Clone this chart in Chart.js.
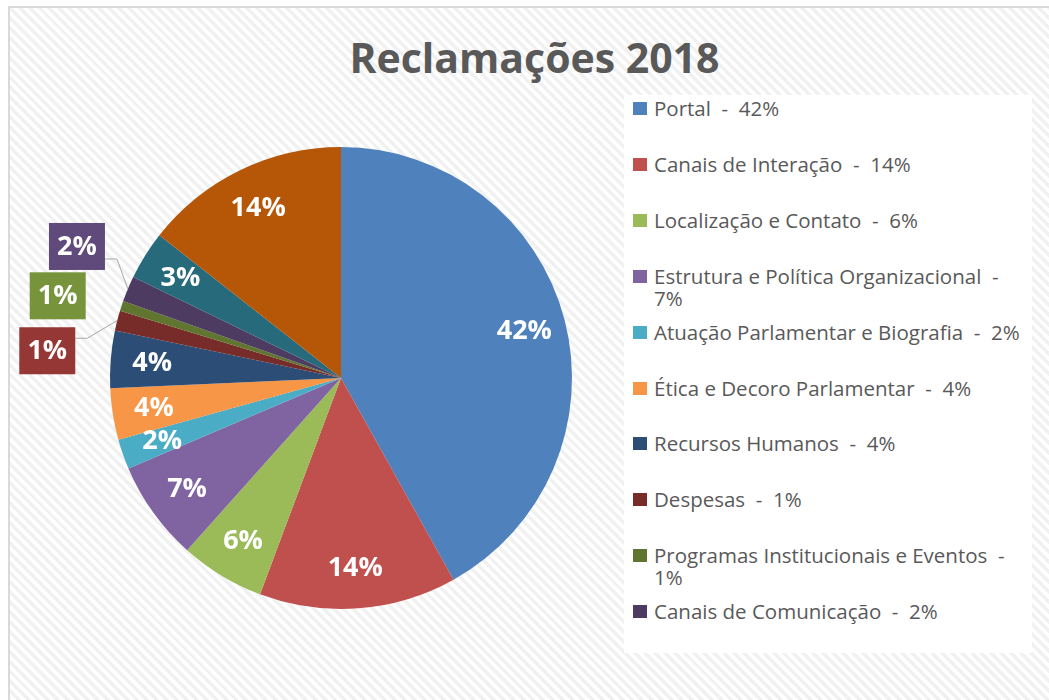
<!DOCTYPE html>
<html>
<head>
<meta charset="utf-8">
<script src="https://cdn.jsdelivr.net/npm/chart.js@4.4.0/dist/chart.umd.min.js"></script>
<style>
body { margin:0; width:1049px; height:700px; overflow:hidden; background:#fff; font-family:"Open Sans", sans-serif; }
#frame { position:absolute; left:8px; top:6px; width:1100px; height:760px;
  border-left:2px solid #d9d9d9; border-top:2px solid #d9d9d9;
  background: repeating-linear-gradient(45deg, #ffffff 0px, #ffffff 3.5px, #f1f1f1 3.5px, #f1f1f1 7px); }
#title { position:absolute; left:0; width:1069px; top:33px; text-align:center; font-weight:700;
  font-size:41px; line-height:48px; color:#595959; }
#legend { position:absolute; left:624px; top:95px; width:408px; height:558px; background:#fff; overflow:hidden; }
.item { position:absolute; left:0; width:408px; height:56px; }
.mark { position:absolute; left:9px; top:7px; width:14px; height:13px; }
.txt { position:absolute; left:30px; top:2px; width:376px; white-space:pre-wrap; font-size:20.5px; line-height:22px; color:#595959; }
canvas { position:absolute; left:0; top:0; }
</style>
</head>
<body>
<div id="frame"></div>
<div id="title">Reclamações 2018</div>
<div id="legend"></div>
<canvas id="pieChart" width="1049" height="700"></canvas>
<script>
// categorias (as duas últimas não aparecem na legenda cortada)
const categories = [
    "Portal",
    "Canais de Interação",
    "Localização e Contato",
    "Estrutura e Política Organizacional",
    "Atuação Parlamentar e Biografia",
    "Ética e Decoro Parlamentar",
    "Recursos Humanos",
    "Despesas",
    "Programas Institucionais e Eventos",
    "Canais de Comunicação",
    "",
    ""
];
// participação (%)
const shares = [41.9, 13.8, 5.9, 7.0, 2.1, 3.6, 4.0, 1.4, 0.7, 1.8, 3.4, 14.4];
const colors = ["#4F81BD", "#C0504D", "#9BBB59", "#8064A2", "#4BACC6", "#F79646",
    "#2C4D75", "#772C2A", "#5F7530", "#4D3B62", "#276A7C", "#B65708"];

// fatias pequenas com rótulo em caixa fora da pizza
const calloutSlices = [7, 8, 9];
const calloutColors = ["#953735", "#77933C", "#604A7B"];

const total = shares.reduce((a, b) => a + b, 0);
function pct(v) {
    return Math.round(v / total * 100) + "%";
}

// legenda
const legend = document.getElementById("legend");
categories.forEach((name, i) => {
    if (!name) return;
    const item = document.createElement("div");
    item.className = "item";
    item.style.top = (i * 55.9) + "px";
    item.innerHTML = `<div class="mark" style="background:${colors[i]}"></div><div class="txt">${name}  -  ${pct(shares[i])}</div>`;
    legend.appendChild(item);
});

const sliceLabels = {
    id: "sliceLabels",
    afterDatasetsDraw(chart, args, opts) {
        const ctx = chart.ctx;
        const meta = chart.getDatasetMeta(0);
        ctx.save();
        ctx.font = "bold 27px 'Open Sans'";
        ctx.textAlign = "center";
        ctx.textBaseline = "middle";
        meta.data.forEach((arc, i) => {
            const p = arc.getProps(["x", "y", "startAngle", "endAngle", "outerRadius"], true);
            const mid = (p.startAngle + p.endAngle) / 2;
            const text = pct(shares[i]);
            const k = calloutSlices.indexOf(i);
            if (k < 0) {
                const r = p.outerRadius * opts.inner;
                ctx.fillStyle = "#fff";
                ctx.fillText(text, p.x + r * Math.cos(mid), p.y + r * Math.sin(mid) + 1);
                return;
            }
            const a = mid + opts.shift[k] * Math.PI / 180;
            const R = p.outerRadius * opts.outer;
            const bx = p.x + R * Math.cos(a), by = p.y + R * Math.sin(a);
            const w = opts.boxW, h = opts.boxH;
            const left = bx - w / 2, top = by - h / 2;
            if (opts.leader[k]) {
                const ex = p.x + p.outerRadius * Math.cos(mid);
                const ey = p.y + p.outerRadius * Math.sin(mid);
                const ly = Math.min(Math.max(ey, top + 11), top + h - 11);
                ctx.strokeStyle = "#a6a6a6";
                ctx.lineWidth = 1;
                ctx.beginPath();
                ctx.moveTo(left + w, ly);
                ctx.lineTo(left + w + 12, ly);
                ctx.lineTo(ex, ey);
                ctx.stroke();
            }
            ctx.fillStyle = calloutColors[k];
            ctx.fillRect(left, top, w, h);
            ctx.fillStyle = "#fff";
            ctx.fillText(text, bx, by + 1);
        });
        ctx.restore();
    }
};

const pieChart = new Chart(document.getElementById("pieChart"), {
    type: "pie",
    data: {
        labels: categories,
        datasets: [{
            data: shares,
            backgroundColor: colors,
            borderWidth: 0,
            hoverOffset: 0
        }]
    },
    options: {
        responsive: false,
        animation: false,
        events: [],
        layout: { padding: { left: 110, right: 477, top: 147, bottom: 91 } },
        plugins: {
            legend: { display: false },
            tooltip: { enabled: false },
            sliceLabels: {
                inner: 0.82,
                outer: 1.277,
                shift: [-9.1, -2.0, 3.8],
                leader: [true, false, true],
                boxW: 56,
                boxH: 47
            }
        }
    },
    plugins: [sliceLabels]
});
</script>
</body>
</html>
